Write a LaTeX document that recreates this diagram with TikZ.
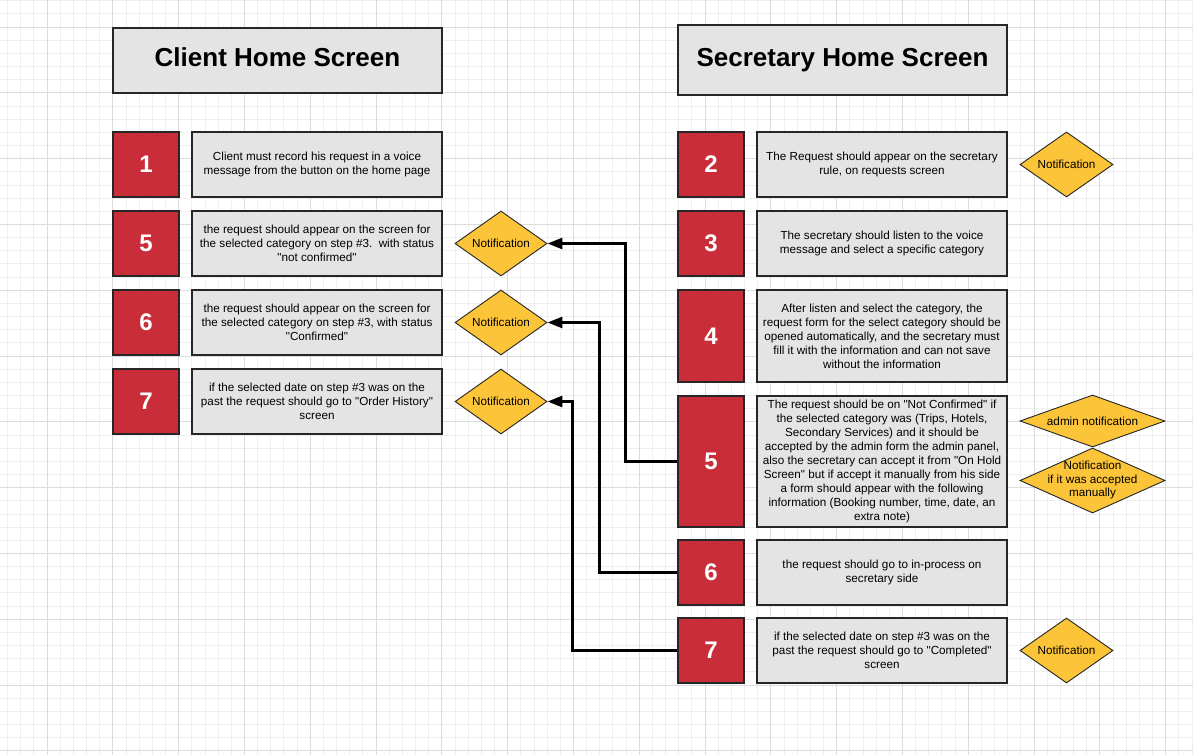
\documentclass[tikz,border=0pt]{standalone}
\usepackage{fontspec}
\setmainfont{Liberation Sans}
\usetikzlibrary{shapes.geometric,arrows.meta}

\definecolor{stepred}{HTML}{C92D39}
\definecolor{panelgray}{HTML}{E4E4E4}
\definecolor{notifyyellow}{HTML}{FCC438}
\definecolor{edgedark}{HTML}{262626}
\definecolor{gridminor}{HTML}{EFEFEF}
\definecolor{gridmajor}{HTML}{DCDCDC}

\newcommand{\dq}{\textquotedbl}

\tikzset{
  header/.style={draw=edgedark, line width=1.3pt, fill=panelgray, inner sep=0pt,
    minimum width=329pt, font=\fontsize{26}{30}\selectfont\bfseries},
  stepbox/.style={draw=edgedark, line width=1.3pt, fill=stepred, inner sep=0pt,
    minimum width=66pt, text=white, font=\fontsize{24}{28}\selectfont\bfseries},
  infobox/.style={draw=edgedark, line width=1.3pt, fill=panelgray, inner sep=0pt,
    minimum width=250pt, align=center, font=\fontsize{11.7}{14}\selectfont},
  notify/.style={draw=edgedark, line width=0.9pt, fill=notifyyellow, shape=diamond,
    inner sep=0pt, font=\fontsize{11.7}{13.7}\selectfont},
  notetext/.style={inner sep=0pt, align=center, font=\fontsize{11.7}{13.7}\selectfont},
  flow/.style={line width=2.6pt, -{Triangle[length=15pt,width=11pt]}}
}

\begin{document}
\begin{tikzpicture}[x=1pt,y=-1pt]
\useasboundingbox (0,0) rectangle (1193,755);
\fill[white] (0,0) rectangle (1193,755);

% background grid
\begin{scope}
\clip (0,0) rectangle (1193,755);
\foreach \i in {-4,...,88} {
  \pgfmathsetmacro\gx{47+\i*13.16}
  \draw[gridminor, line width=0.8pt] (\gx,0) -- (\gx,755);
}
\foreach \i in {-3,...,56} {
  \pgfmathsetmacro\gy{27+\i*13.16}
  \draw[gridminor, line width=0.8pt] (0,\gy) -- (1193,\gy);
}
\foreach \i in {-1,...,17} {
  \pgfmathsetmacro\gx{47+\i*65.8}
  \draw[gridmajor, line width=0.9pt] (\gx,0) -- (\gx,755);
}
\foreach \i in {-1,...,11} {
  \pgfmathsetmacro\gy{27+\i*65.8}
  \draw[gridmajor, line width=0.9pt] (0,\gy) -- (1193,\gy);
}
\end{scope}

% headers
\node[header, minimum height=65pt, text depth=6pt] (chead) at (277.5,60.5) {Client Home Screen};
\node[header, minimum height=70pt] (shead) at (842.5,60) {Secretary Home Screen};

% client column
\node[stepbox, minimum height=65pt] (c1) at (146,164.5) {1};
\node[stepbox, minimum height=65pt] (c5) at (146,243.5) {5};
\node[stepbox, minimum height=65pt] (c6) at (146,322.5) {6};
\node[stepbox, minimum height=65pt] (c7) at (146,401.5) {7};

\node[infobox, minimum height=65pt] (ct1) at (317,164.5)
  {Client must record his request in a voice\\message from the button on the home page};
\node[infobox, minimum height=65pt] (ct5) at (317,243.5)
  {the request should appear on the screen for\\the selected category on step \#3.\ \ with status\\\dq not confirmed\dq};
\node[infobox, minimum height=65pt] (ct6) at (317,322.5)
  {the request should appear on the screen for\\the selected category on step \#3, with status\\\dq Confirmed\dq};
\node[infobox, minimum height=65pt] (ct7) at (317,401.5)
  {if the selected date on step \#3 was on the\\past the request should go to \dq Order History\dq\\screen};

\node[notify, aspect=1.42, minimum width=92pt, minimum height=65pt] (cn5) at (501,243.5) {Notification};
\node[notify, aspect=1.42, minimum width=92pt, minimum height=65pt] (cn6) at (501,322.5) {Notification};
\node[notify, aspect=1.42, minimum width=92pt, minimum height=65pt] (cn7) at (501,401.5) {Notification};

% secretary column
\node[stepbox, minimum height=65pt] (s2) at (711,164.5) {2};
\node[stepbox, minimum height=65pt] (s3) at (711,243.5) {3};
\node[stepbox, minimum height=92pt] (s4) at (711,336) {4};
\node[stepbox, minimum height=131pt] (s5) at (711,461.5) {5};
\node[stepbox, minimum height=65pt] (s6) at (711,572.5) {6};
\node[stepbox, minimum height=65pt] (s7) at (711,650.5) {7};

\node[infobox, minimum height=65pt] (st2) at (882,164.5)
  {The Request should appear on the secretary\\rule, on requests screen};
\node[infobox, minimum height=65pt] (st3) at (882,243.5)
  {The secretary should listen to the voice\\message and select a specific category};
\node[infobox, minimum height=92pt] (st4) at (882,336)
  {After listen and select the category, the\\request form for the select category should be\\opened automatically, and the secretary must\\fill it with the information and can not save\\without the information};
\node[infobox, minimum height=131pt] (st5) at (882,461.5)
  {The request should be on \dq Not Confirmed\dq{} if\\the selected category was (Trips, Hotels,\\Secondary Services) and it should be\\accepted by the admin form the admin panel,\\also the secretary can accept it from \dq On Hold\\Screen\dq{} but if accept it manually from his side\\a form should appear with the following\\information (Booking number, time, date, an\\extra note)};
\node[infobox, minimum height=65pt] (st6) at (882,572.5)
  {the request should go to in-process on\\secretary side};
\node[infobox, minimum height=65pt] (st7) at (882,650.5)
  {if the selected date on step \#3 was on the\\past the request should go to \dq Completed\dq\\screen};

\node[notify, aspect=1.43, minimum width=93pt, minimum height=65pt] (sn2) at (1066.5,164.5) {Notification};
\node[notify, aspect=2.79, minimum width=145pt, minimum height=52pt] (sna) at (1092.5,421) {admin notification};
\node[notify, aspect=2.23, minimum width=145pt, minimum height=65pt] (snm) at (1092.5,480.5) {};
\node[notetext] (snmt) at (1092.5,480) {Notification\\if it was accepted\\manually};
\node[notify, aspect=1.43, minimum width=93pt, minimum height=65pt] (sn7) at (1066.5,650.5) {Notification};

% connectors from the secretary steps back to the client notifications
\draw[flow] (s5.west) -- ++(-52,0) |- (cn5.east);
\draw[flow] (s6.west) -- ++(-78,0) |- (cn6.east);
\draw[flow] (s7.west) -- ++(-105,0) |- (cn7.east);
\end{tikzpicture}
\end{document}
